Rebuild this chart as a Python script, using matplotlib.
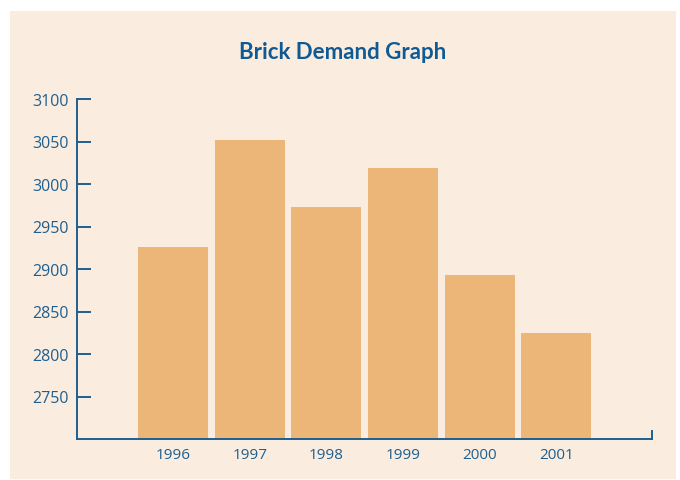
import matplotlib
matplotlib.use("Agg")
import matplotlib.pyplot as plt
from matplotlib.patches import Rectangle

# datos
anios = ["1996", "1997", "1998", "1999", "2000", "2001"]
demanda = [2926, 3052, 2973, 3019, 2893, 2825]
yticks = [2750, 2800, 2850, 2900, 2950, 3000, 3050, 3100]

FONDO = "#FAEDDF"
BARRA = "#EBB677"
AZUL = "#1F5F8F"
TITULO = "#0F5A94"


def Graficar():
    fig = plt.figure(figsize=(6.8, 4.81), dpi=100)
    fig.patch.set_facecolor("white")

    # panel beige detras de todo
    fig.patches.append(Rectangle((10 / 680, 1 - 480 / 481), 666 / 680, 468 / 481,
                                 transform=fig.transFigure, facecolor=FONDO,
                                 edgecolor="none", zorder=-10))

    ax = fig.add_axes([77 / 680, 1 - 440 / 481, 575 / 680, 340 / 481])
    ax.set_facecolor("none")

    x = list(range(len(anios)))
    ax.bar(x, [d - 2700 for d in demanda], bottom=2700, width=0.914, color=BARRA)

    ax.set_xlim(-1.253, 6.25)
    ax.set_ylim(2700, 3100)
    ax.set_xticks(x)
    ax.set_xticklabels(anios)
    ax.set_yticks(yticks)

    ax.spines["top"].set_visible(False)
    for s in ["left", "bottom", "right"]:
        ax.spines[s].set_color(AZUL)
        ax.spines[s].set_linewidth(1.4)
    ax.spines["right"].set_bounds(2700, 2710)

    ax.tick_params(axis="y", direction="in", length=10, width=1.4, color=AZUL,
                   labelcolor=AZUL, labelsize=11.5, pad=6)
    ax.tick_params(axis="x", length=0, labelcolor=AZUL, labelsize=11, pad=6)
    for t in ax.get_xticklabels() + ax.get_yticklabels():
        t.set_fontfamily("Open Sans")

    fig.text(343 / 680, 1 - 53 / 481, "Brick Demand Graph", ha="center", va="center",
             color=TITULO, fontsize=16, fontweight="bold", fontfamily="Lato")

    fig.savefig("out.png", dpi=100)


def main():
    Graficar()


if __name__ == "__main__":
    main()
